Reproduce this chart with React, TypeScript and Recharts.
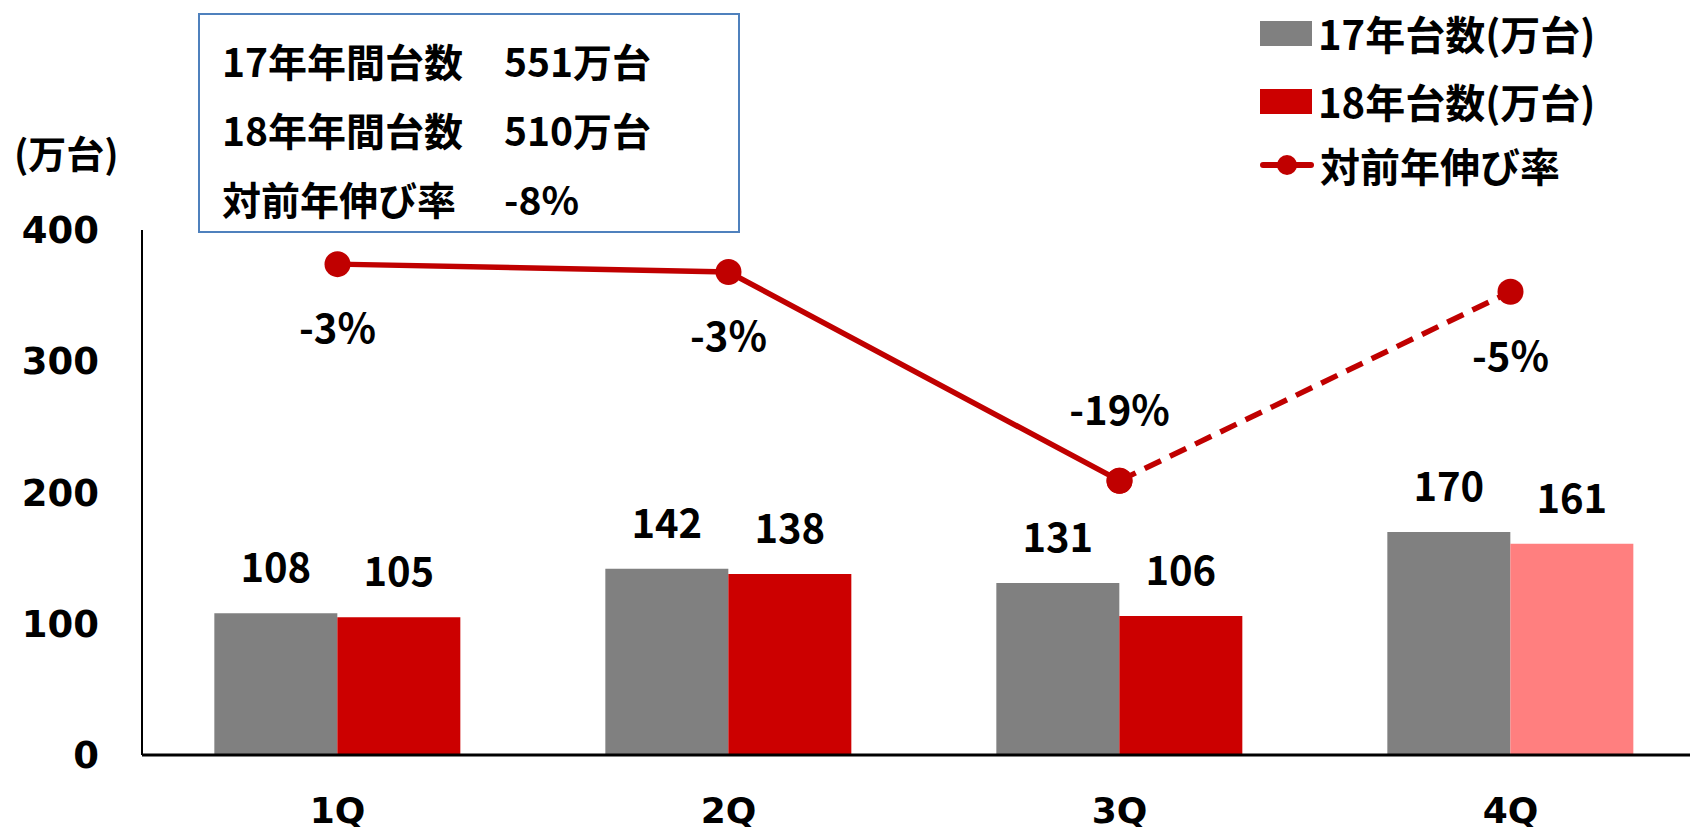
import { ComposedChart, Bar, Line, XAxis, YAxis, LabelList, Cell } from 'recharts';

const quarters = ['1Q', '2Q', '3Q', '4Q'];
const units17 = [108, 142, 131, 170];
const units18 = [105, 138, 106, 161];
const growthRate = [-2.6, -3.2, -19.1, -4.7];
const yTicks = [0, 100, 200, 300, 400];

const summaryRows = [
  { label: '17年年間台数', value: '551万台' },
  { label: '18年年間台数', value: '510万台' },
  { label: '対前年伸び率', value: '-8%' },
];

const GRAY = '#808080';
const RED = '#cc0000';
const PINK = '#ff7f7f';
const LINE_RED = '#c00000';
const JP = '"Noto Sans CJK JP", "Noto Sans", sans-serif';
const NUM = '"DejaVu Sans", Verdana, sans-serif';

// solid segment 1Q-3Q, dashed segment 3Q-4Q
const chartData = quarters.map((q, i) => ({
  name: q,
  u17: units17[i],
  u18: units18[i],
  rateSolid: i <= 2 ? growthRate[i] : null,
  rateDash: i >= 2 ? growthRate[i] : null,
}));

function rateLabel(onlyIndex: number[]) {
  return (props: any) => {
    const { x, y, index } = props;
    if (!onlyIndex.includes(index) || x == null || y == null) return null;
    const above = index === 2;
    return (
      <text
        key={`rl-${index}`}
        x={x}
        y={above ? y - 73 : y + 62}
        textAnchor="middle"
        dominantBaseline="central"
        fontFamily={JP}
        fontWeight={700}
        fontSize={40}
        fill="#000"
      >
        {`${Math.round(growthRate[index])}%`}
      </text>
    );
  };
}

function LegendOverlay() {
  const row = { position: 'absolute' as const, left: 1260, display: 'flex', alignItems: 'center', height: 50 };
  const txt = { fontFamily: JP, fontWeight: 700, fontSize: 40, color: '#000', marginLeft: 6, whiteSpace: 'pre' as const };
  return (
    <>
      <div style={{ ...row, top: 8 }}>
        <div style={{ width: 52, height: 25, background: GRAY }} />
        <span style={txt}>17年台数(万台)</span>
      </div>
      <div style={{ ...row, top: 76 }}>
        <div style={{ width: 52, height: 25, background: RED }} />
        <span style={txt}>18年台数(万台)</span>
      </div>
      <div style={{ ...row, top: 140 }}>
        <svg width={54} height={26}>
          <line x1={3} y1={13} x2={51} y2={13} stroke={LINE_RED} strokeWidth={6} strokeLinecap="round" />
          <circle cx={27} cy={13} r={10} fill={LINE_RED} />
        </svg>
        <span style={txt}>対前年伸び率</span>
      </div>
    </>
  );
}

export default function App() {
  return (
    <div style={{ position: 'relative', width: 1698, height: 835, margin: -8, overflow: 'hidden', background: '#fff' }}>
      <ComposedChart
        width={1706}
        height={835}
        data={chartData}
        margin={{ top: 230, right: 0, left: 0, bottom: 0 }}
        barCategoryGap="18.5%"
        barGap={0}
      >
        <XAxis
          dataKey="name"
          height={80}
          axisLine={{ stroke: '#000', strokeWidth: 3 }}
          tickLine={false}
          tickSize={0}
          tickMargin={42}
          tick={{ fill: '#000', fontFamily: NUM, fontWeight: 700, fontSize: 36 }}
        />
        <YAxis
          yAxisId="left"
          width={142}
          domain={[0, 400]}
          ticks={yTicks}
          interval={0}
          axisLine={{ stroke: '#000', strokeWidth: 2 }}
          tickLine={false}
          tickSize={0}
          tickMargin={43}
          tick={{ fill: '#000', fontFamily: NUM, fontWeight: 700, fontSize: 37 }}
        />
        <YAxis yAxisId="rate" orientation="right" hide domain={[-40, 0]} />
        <Bar yAxisId="left" dataKey="u17" fill={GRAY} isAnimationActive={false}>
          <LabelList dataKey="u17" position="top" offset={31} fill="#000" fontFamily={JP} fontWeight={700} fontSize={40} />
        </Bar>
        <Bar yAxisId="left" dataKey="u18" fill={RED} isAnimationActive={false}>
          {chartData.map((d, i) => (
            <Cell key={d.name} fill={i === 3 ? PINK : RED} />
          ))}
          <LabelList dataKey="u18" position="top" offset={31} fill="#000" fontFamily={JP} fontWeight={700} fontSize={40} />
        </Bar>
        <Line
          yAxisId="rate"
          dataKey="rateSolid"
          stroke={LINE_RED}
          strokeWidth={5.5}
          dot={{ r: 13, fill: LINE_RED, stroke: 'none' }}
          activeDot={false}
          connectNulls={false}
          label={rateLabel([0, 1, 2])}
          isAnimationActive={false}
        />
        <Line
          yAxisId="rate"
          dataKey="rateDash"
          stroke={LINE_RED}
          strokeWidth={5.5}
          strokeDasharray="18 10"
          dot={{ r: 13, fill: LINE_RED, stroke: 'none' }}
          activeDot={false}
          connectNulls={false}
          label={rateLabel([3])}
          isAnimationActive={false}
        />
      </ComposedChart>

      {/* unit label */}
      <div style={{ position: 'absolute', left: 14, top: 124, fontFamily: JP, fontWeight: 700, fontSize: 38, color: '#000' }}>
        (万台)
      </div>

      {/* summary box */}
      <div
        style={{
          position: 'absolute',
          left: 198,
          top: 13,
          width: 538,
          height: 216,
          border: '2px solid #4f81bd',
          background: '#fff',
        }}
      >
        {summaryRows.map((r, i) => (
          <div
            key={r.label}
            style={{
              position: 'absolute',
              top: 20 + i * 69,
              left: 22,
              height: 50,
              display: 'flex',
              alignItems: 'center',
              fontFamily: JP,
              fontWeight: 700,
              fontSize: 39,
              color: '#000',
            }}
          >
            <span style={{ width: 282, display: 'inline-block' }}>{r.label}</span>
            <span>{r.value}</span>
          </div>
        ))}
      </div>

      <LegendOverlay />
    </div>
  );
}
